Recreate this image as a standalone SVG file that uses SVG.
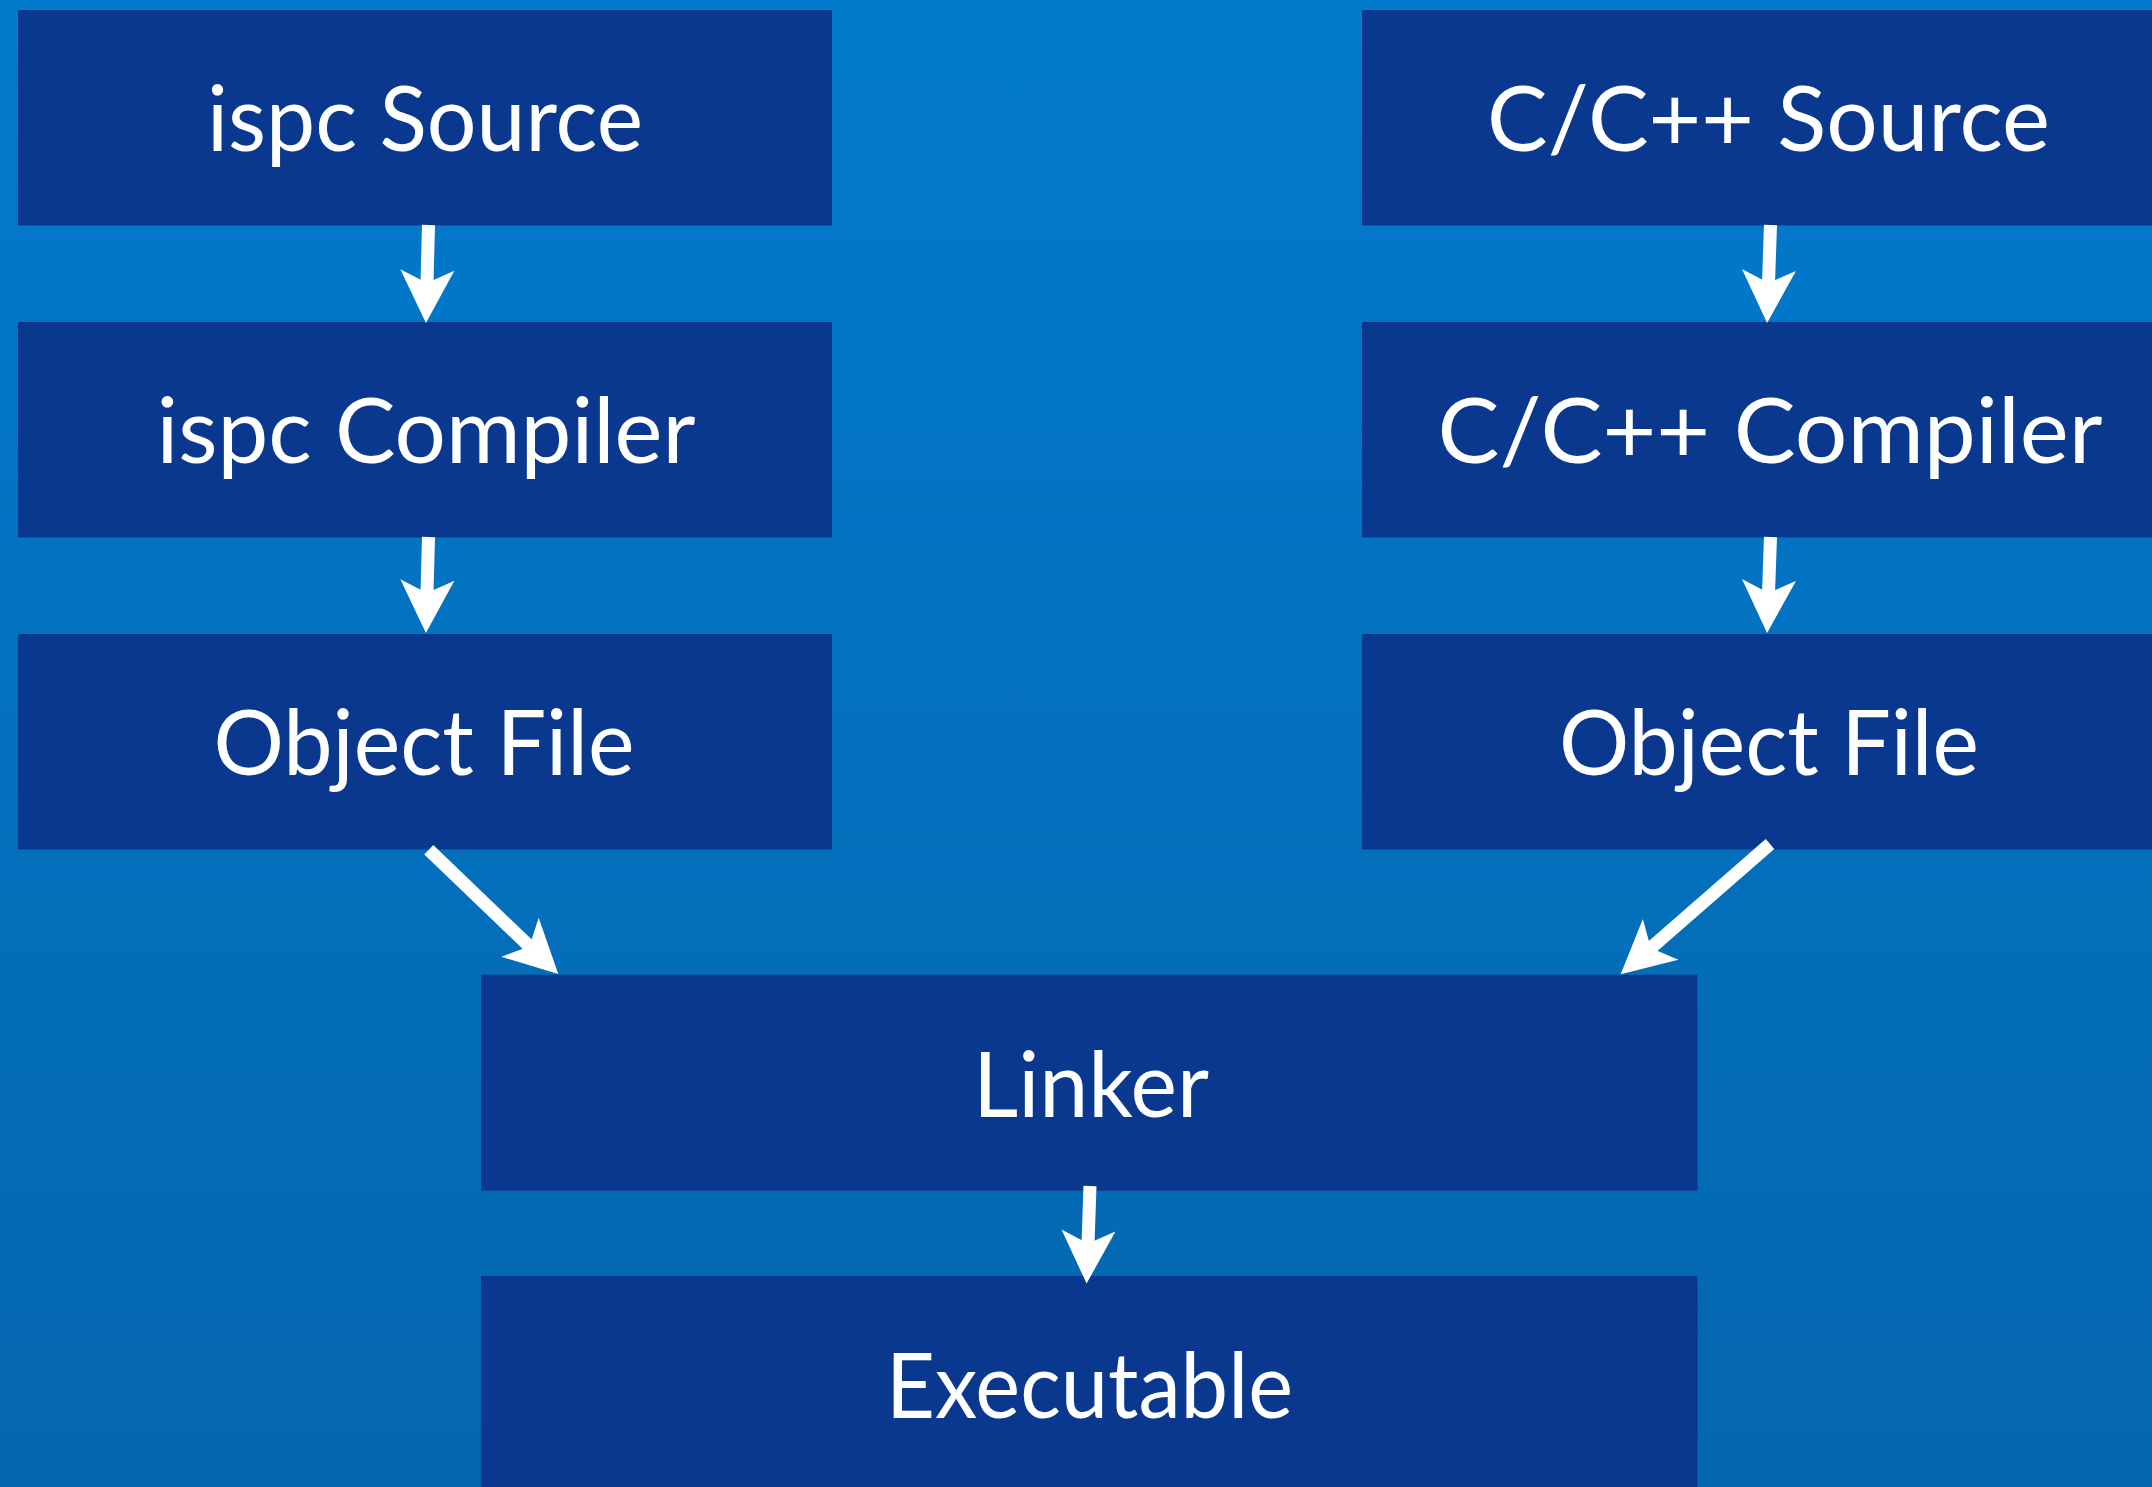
<svg xmlns="http://www.w3.org/2000/svg" width="2152" height="1487" viewBox="0 0 2152 1487">
  <defs>
    <linearGradient id="bg" x1="0" y1="0" x2="0" y2="1">
      <stop offset="0" stop-color="#027BCD"/>
      <stop offset="1" stop-color="#0466AE"/>
    </linearGradient>
    <marker id="head" markerUnits="userSpaceOnUse" viewBox="0 -28 54 56" refX="13" refY="0" markerWidth="54" markerHeight="56" orient="auto" overflow="visible">
      <path d="M0,-27 L53,0 L0,27 L13,0 Z" fill="#FFFFFF"/>
    </marker>
  </defs>
  <style>
    .box { fill: #0B388F; }
    .lbl { font-family: "Lato", "Open Sans", "Liberation Sans", sans-serif; font-size: 91px; fill: #FFFFFF; text-anchor: middle; }
    .edge { stroke: #FFFFFF; stroke-width: 13; fill: none; stroke-linecap: butt; marker-end: url(#head); }
  </style>
  <rect x="0" y="0" width="2152" height="1487" fill="url(#bg)"/>

  <g id="ispc-source">
    <rect class="box" x="18" y="10" width="814" height="215.5"/>
    <text class="lbl" x="425" y="151" textLength="436" lengthAdjust="spacingAndGlyphs">ispc Source</text>
  </g>
  <g id="ispc-compiler">
    <rect class="box" x="18" y="322" width="814" height="215.5"/>
    <text class="lbl" x="426" y="463" textLength="539" lengthAdjust="spacingAndGlyphs">ispc Compiler</text>
  </g>
  <g id="ispc-object">
    <rect class="box" x="18" y="634" width="814" height="215.5"/>
    <text class="lbl" x="424" y="775" textLength="421" lengthAdjust="spacingAndGlyphs">Object File</text>
  </g>
  <g id="c-source">
    <rect class="box" x="1362" y="10" width="814" height="215.5"/>
    <text class="lbl" x="1768.5" y="151" textLength="563" lengthAdjust="spacingAndGlyphs">C/C++ Source</text>
  </g>
  <g id="c-compiler">
    <rect class="box" x="1362" y="322" width="814" height="215.5"/>
    <text class="lbl" x="1770" y="463" textLength="665" lengthAdjust="spacingAndGlyphs">C/C++ Compiler</text>
  </g>
  <g id="c-object">
    <rect class="box" x="1362" y="634" width="814" height="215.5"/>
    <text class="lbl" x="1769" y="775" textLength="420" lengthAdjust="spacingAndGlyphs">Object File</text>
  </g>
  <g id="linker">
    <rect class="box" x="481" y="974.7" width="1216.5" height="216"/>
    <text class="lbl" x="1091" y="1117" textLength="236" lengthAdjust="spacingAndGlyphs">Linker</text>
  </g>
  <g id="executable">
    <rect class="box" x="481" y="1276" width="1216.5" height="215"/>
    <text class="lbl" x="1089.5" y="1418" textLength="407" lengthAdjust="spacingAndGlyphs">Executable</text>
  </g>

  <g id="connectors">
    <path class="edge" d="M428.5,225 L427,283"/>
    <path class="edge" d="M428.5,537 L427,593"/>
    <path class="edge" d="M1770.5,225 L1768.5,283"/>
    <path class="edge" d="M1770.5,537 L1768.5,593"/>
    <path class="edge" d="M428.8,849.8 L529.4,946.3"/>
    <path class="edge" d="M1770,844 L1650.8,948"/>
    <path class="edge" d="M1090,1186 L1088,1243.5"/>
  </g>
</svg>
